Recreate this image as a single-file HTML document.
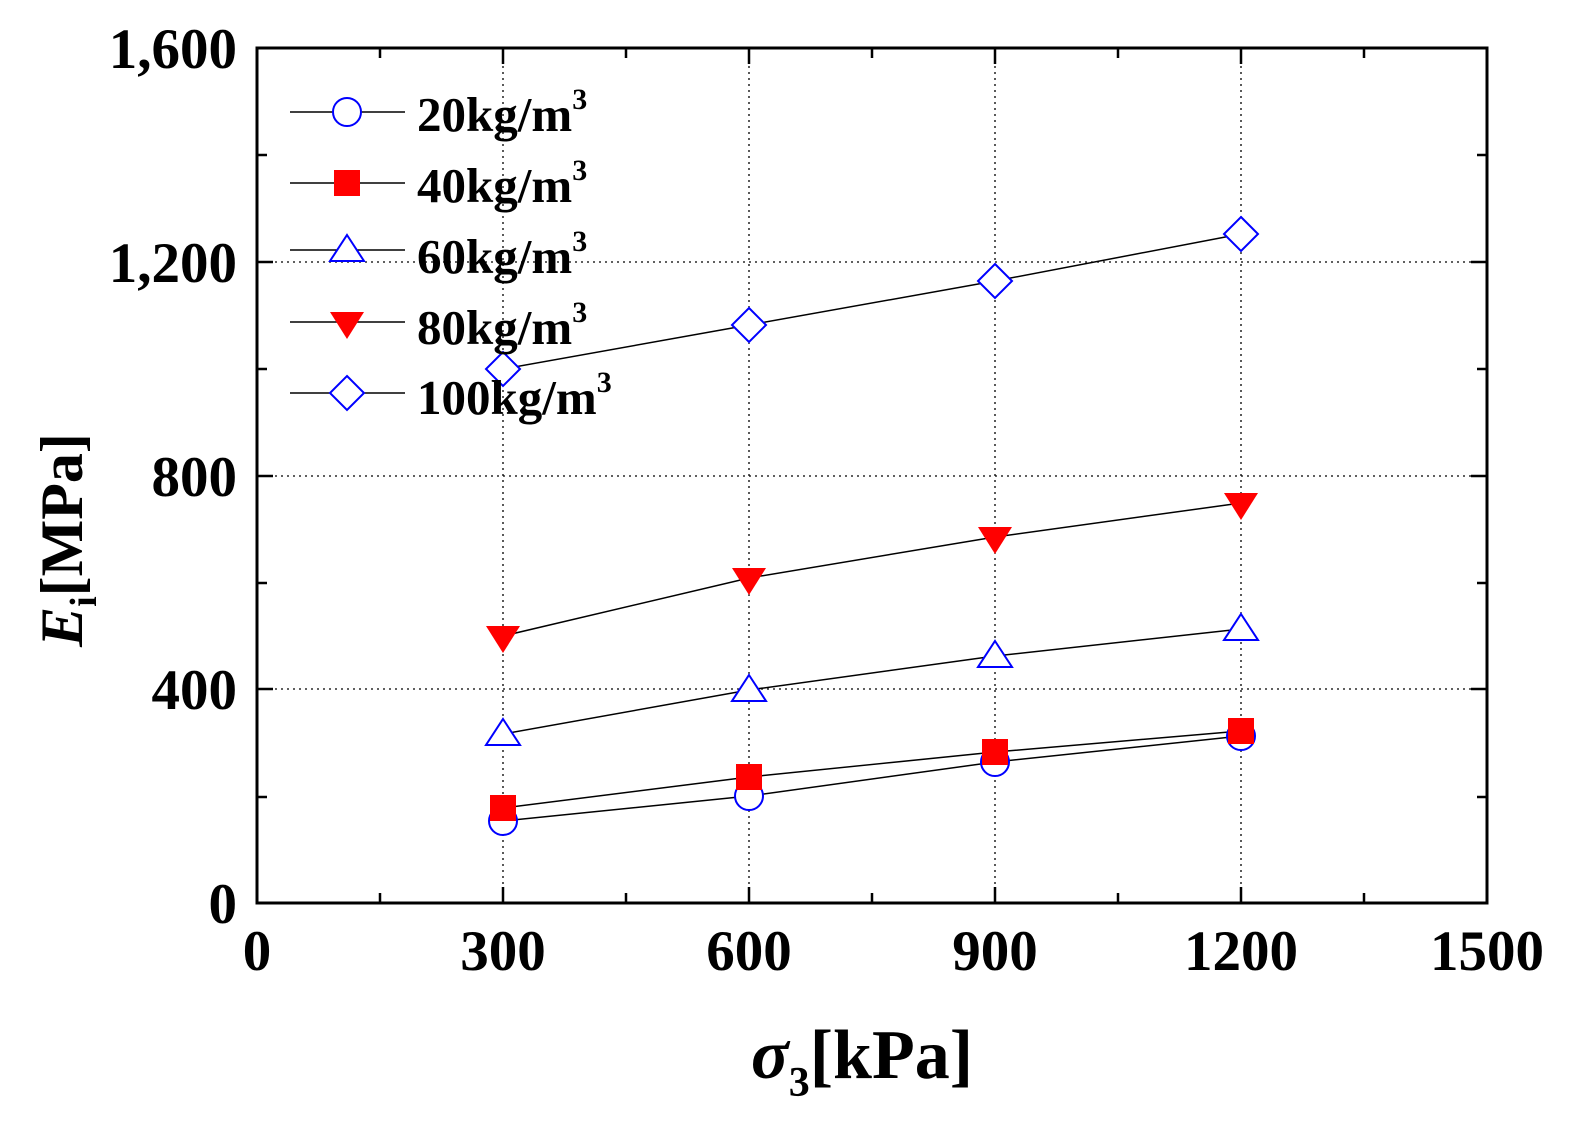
<!DOCTYPE html>
<html><head><meta charset="utf-8"><style>
html,body{margin:0;padding:0;background:#fff}
svg{display:block}
text{font-family:"Liberation Serif",serif;font-weight:bold;fill:#000}
</style></head><body>
<svg width="1590" height="1146" viewBox="0 0 1590 1146" xmlns="http://www.w3.org/2000/svg">
<g stroke="#000" stroke-width="1.3" stroke-dasharray="2,4" fill="none">
<line x1="503" y1="48" x2="503" y2="903"/><line x1="749" y1="48" x2="749" y2="903"/>
<line x1="995" y1="48" x2="995" y2="903"/><line x1="1241" y1="48" x2="1241" y2="903"/>
<line x1="257" y1="262" x2="1487" y2="262"/><line x1="257" y1="476" x2="1487" y2="476"/>
<line x1="257" y1="689" x2="1487" y2="689"/>
</g>
<rect x="257" y="48" width="1230" height="855" fill="none" stroke="#000" stroke-width="3"/>
<g stroke="#000" stroke-width="2.5">
<path d="M380 903v-10M503 903v-16M626 903v-10M749 903v-16M872 903v-10M995 903v-16M1118 903v-10M1241 903v-16M1364 903v-10"/>
<path d="M380 48v10M503 48v16M626 48v10M749 48v16M872 48v10M995 48v16M1118 48v10M1241 48v16M1364 48v10"/>
<path d="M257 797h10M257 689h16M257 583h10M257 476h16M257 369h10M257 262h16M257 155h10"/>
<path d="M1487 797h-10M1487 689h-16M1487 583h-10M1487 476h-16M1487 369h-10M1487 262h-16M1487 155h-10"/>
</g>
<g font-size="57" text-anchor="end">
<text x="237" y="923">0</text><text x="237" y="709">400</text><text x="237" y="496">800</text>
<text x="237" y="282">1,200</text><text x="237" y="68">1,600</text>
</g>
<g font-size="57" text-anchor="middle">
<text x="257" y="970">0</text><text x="503" y="970">300</text><text x="749" y="970">600</text>
<text x="995" y="970">900</text><text x="1241" y="970">1200</text><text x="1487" y="970">1500</text>
</g>
<text x="862" y="1078" font-size="70" text-anchor="middle"><tspan font-style="italic">σ</tspan><tspan font-size="42" dy="18">3</tspan><tspan dy="-18">[kPa]</tspan></text>
<text transform="translate(82,540) rotate(-90)" font-size="60" text-anchor="middle"><tspan font-style="italic">E</tspan><tspan font-size="38" dy="14">i</tspan><tspan dy="-14">[MPa]</tspan></text>
<g stroke="#000" stroke-width="1.5" fill="none">
<polyline points="503,821 749,796 995,762 1241,736"/>
<polyline points="503,808 749,777 995,752 1241,731"/>
<polyline points="503,734 749,690 995,656 1241,629"/>
<polyline points="503,636 749,578 995,537 1241,503"/>
<polyline points="503,369 749,325 995,281 1241,234"/>
<path d="M290 112h115M290 183h115M290 250h115M290 322h115M290 393h115"/>
</g>
<g fill="#fff" stroke="#00f" stroke-width="2">
<circle cx="503" cy="821" r="14"/><circle cx="749" cy="796" r="14"/><circle cx="995" cy="762" r="14"/><circle cx="1241" cy="736" r="14"/>
<circle cx="347" cy="112" r="14"/>
</g>
<g fill="#f00">
<rect x="490" y="795" width="26" height="26"/><rect x="736" y="764" width="26" height="26"/><rect x="982" y="739" width="26" height="26"/><rect x="1228" y="718" width="26" height="26"/>
<rect x="334" y="170" width="26" height="26"/>
</g>
<g fill="#fff" stroke="#00f" stroke-width="2">
<polygon points="503,719 520,745 486,745"/><polygon points="749,675 766,701 732,701"/><polygon points="995,641 1012,667 978,667"/><polygon points="1241,614 1258,640 1224,640"/>
<polygon points="347,235 364,261 330,261"/>
</g>
<g fill="#f00">
<polygon points="486,626 520,626 503,653"/><polygon points="732,568 766,568 749,595"/><polygon points="978,527 1012,527 995,554"/><polygon points="1224,493 1258,493 1241,520"/>
<polygon points="330,312 364,312 347,339"/>
</g>
<g fill="#fff" stroke="#00f" stroke-width="2">
<polygon points="503,352 520,369 503,386 486,369"/><polygon points="749,308 766,325 749,342 732,325"/><polygon points="995,264 1012,281 995,298 978,281"/><polygon points="1241,217 1258,234 1241,251 1224,234"/>
<polygon points="347,376 364,393 347,410 330,393"/>
</g>
<g font-size="49">
<text x="417" y="131">20kg/m<tspan font-size="30" dy="-22">3</tspan></text>
<text x="417" y="202">40kg/m<tspan font-size="30" dy="-22">3</tspan></text>
<text x="417" y="273">60kg/m<tspan font-size="30" dy="-22">3</tspan></text>
<text x="417" y="344">80kg/m<tspan font-size="30" dy="-22">3</tspan></text>
<text x="417" y="414">100kg/m<tspan font-size="30" dy="-22">3</tspan></text>
</g>
</svg>
</body></html>
